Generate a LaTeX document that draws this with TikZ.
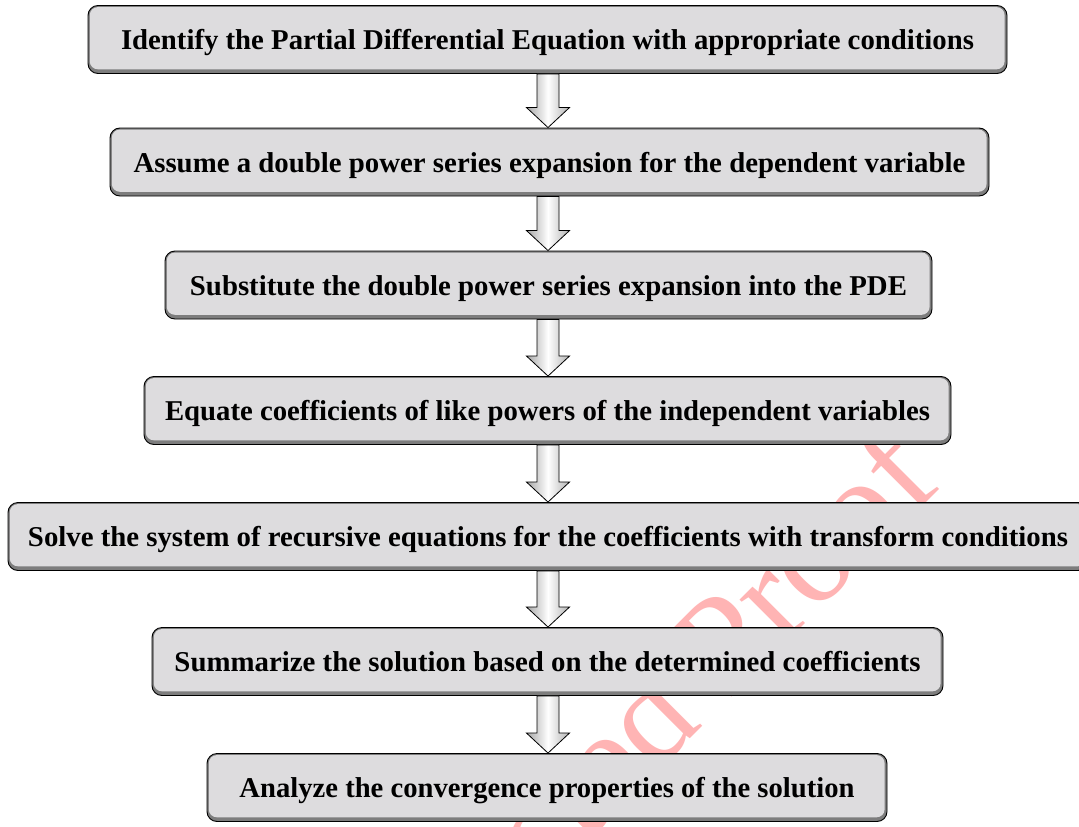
\documentclass[tikz,border=0pt]{standalone}
\usepackage{fontspec}
\setmainfont{Liberation Serif}
\usepackage{graphicx}
\usetikzlibrary{calc}
\definecolor{boxfill}{RGB}{221,220,222}
\definecolor{bevel}{RGB}{125,125,125}
\definecolor{wmpink}{RGB}{255,180,180}
\newcommand\fitt[2]{\resizebox{#1}{\height}{#2}}
\newcommand\flowarr[2]{%
  \path[flowarrow] ($(#1.south -| ax)+(-11,0)$) -- ($(#2.north -| ax)+(-11,-20)$) -- ++(-10.5,0)
    -- (#2.north -| ax) -- ++(21.5,-20) -- ++(-10.5,0) -- ($(#1.south -| ax)+(11,0)$) -- cycle;}
\tikzset{
  stepbox/.style={draw=black, line width=0.9pt, rounded corners=10pt, fill=bevel,
    inner sep=0pt, minimum height=68pt, text height=20pt, text depth=0pt,
    font=\bfseries\fontsize{28.7}{34}\selectfont,
    path picture={\fill[boxfill, rounded corners=8pt]
      ([xshift=1.8pt,yshift=-1.6pt]path picture bounding box.north west) rectangle
      ([xshift=-2.4pt,yshift=4.2pt]path picture bounding box.south east);}},
  flowarrow/.style={draw=black, line width=0.8pt, left color=gray!70, right color=gray!60,
    middle color=white, line join=miter},
  watermark/.style={rotate=45, anchor=base east, text=wmpink, font=\fontsize{137}{137}\selectfont}
}
\begin{document}
\begin{tikzpicture}[x=1pt,y=-1pt]
\useasboundingbox (0,0) rectangle (1079,827);
\clip (0,0) rectangle (1079,827);
\fill[white] (0,0) rectangle (1079,827);
\node[watermark] (wm) at (946,483) {Uncorrected Proof};
\coordinate (ax) at (548,0);
\node[stepbox, minimum width=919pt] (b1) at (547.5,39.5) {\fitt{853pt}{Identify the Partial Differential Equation with appropriate conditions}};
\node[stepbox, minimum width=879pt] (b2) at (549.5,162) {\fitt{832pt}{Assume a double power series expansion for the dependent variable}};
\node[stepbox, minimum width=767pt] (b3) at (548.5,285) {\fitt{717pt}{Substitute the double power series expansion into the PDE}};
\node[stepbox, minimum width=807pt] (b4) at (547.5,410.5) {\fitt{765pt}{Equate coefficients of like powers of the independent variables}};
\node[stepbox, minimum width=1080pt] (b5) at (548,536.5) {\fitt{1040pt}{Solve the system of recursive equations for the coefficients with transform conditions}};
\node[stepbox, minimum width=791pt] (b6) at (547.5,661.5) {\fitt{746pt}{Summarize the solution based on the determined coefficients}};
\node[stepbox, minimum width=680pt] (b7) at (547,787.5) {\fitt{615pt}{Analyze the convergence properties of the solution}};
\flowarr{b1}{b2}
\flowarr{b2}{b3}
\flowarr{b3}{b4}
\flowarr{b4}{b5}
\flowarr{b5}{b6}
\flowarr{b6}{b7}
\end{tikzpicture}
\end{document}
